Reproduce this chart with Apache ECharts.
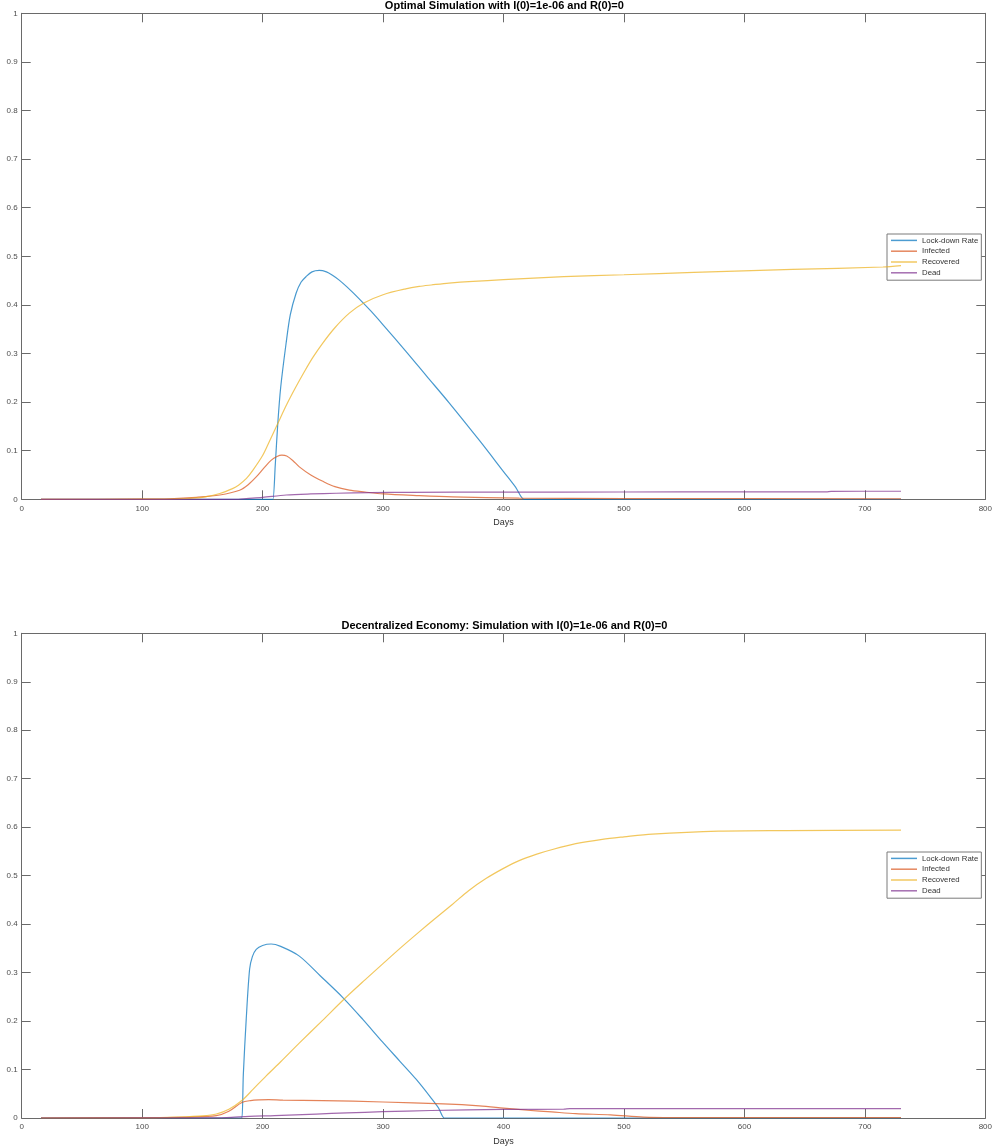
<!DOCTYPE html>
<html>
<head>
<meta charset="utf-8">
<script src="https://cdn.jsdelivr.net/npm/echarts@6/dist/echarts.min.js"></script>
<style>
html,body{margin:0;padding:0;background:#fff;}
#chart{width:995px;height:1147px;}
</style>
</head>
<body>
<div id="chart"></div>
<script>
// ---------- DATA ----------
const seriesNames = ['Lock-down Rate', 'Infected', 'Recovered', 'Dead'];
const titles = ['Optimal Simulation with I(0)=1e-06 and R(0)=0',
                'Decentralized Economy: Simulation with I(0)=1e-06 and R(0)=0'];
const xTicks = [0, 100, 200, 300, 400, 500, 600, 700, 800];
const yTicks = [0, 0.1, 0.2, 0.3, 0.4, 0.5, 0.6, 0.7, 0.8, 0.9, 1];
const xLabel = 'Days';

// Top panel: Optimal
const optLockDays = [16, 200, 207, 208.5, 210.5, 212.6, 215, 219.5, 223, 227.8, 232, 236, 241, 247, 253, 258, 263.6, 270, 280, 290, 300, 318.8, 336, 354.7, 380, 400, 410, 417, 419, 730];
const optLockVals = [0, 0, 0, 0, 0.07, 0.156, 0.23, 0.321, 0.38, 0.424, 0.447, 0.458, 0.468, 0.471, 0.468, 0.461, 0.451, 0.437, 0.413, 0.387, 0.359, 0.305, 0.254, 0.199, 0.121, 0.057, 0.025, 0, 0, 0];
const optInfDays = [16, 100, 123, 145, 164.5, 180.9, 188, 194.7, 201, 207, 212, 216, 220, 225, 230.5, 240, 250, 260, 272, 285, 300, 330, 357.7, 413, 500, 730];
const optInfVals = [0, 0.0002, 0.001, 0.004, 0.0088, 0.0186, 0.03, 0.046, 0.064, 0.08, 0.088, 0.0907, 0.089, 0.08, 0.0667, 0.05, 0.037, 0.026, 0.019, 0.015, 0.011, 0.0075, 0.005, 0.0025, 0.0015, 0.001];
const optRecDays = [16, 100, 131, 150, 164.5, 175, 180, 186.6, 192, 200, 206, 212.6, 220, 227.8, 235, 242, 249.8, 260, 272, 284, 300, 318.8, 330, 340, 354.7, 400, 450, 500, 558, 640, 715, 730];
const optRecVals = [0, 0.0003, 0.001, 0.004, 0.012, 0.022, 0.029, 0.043, 0.06, 0.09, 0.121, 0.156, 0.195, 0.232, 0.264, 0.293, 0.321, 0.353, 0.383, 0.404, 0.421, 0.433, 0.438, 0.441, 0.445, 0.452, 0.458, 0.462, 0.467, 0.473, 0.478, 0.481];
const optDeadDays = [16, 180, 186.5, 200, 219.6, 240, 261, 290, 322, 400, 496, 600, 668, 672, 730];
const optDeadVals = [0, 0, 0.0014, 0.004, 0.0088, 0.011, 0.0124, 0.0137, 0.0144, 0.0148, 0.015, 0.0152, 0.0153, 0.0165, 0.0166];

// Bottom panel: Decentralized
const decLockDays = [16, 176, 181.5, 182.8, 184, 186.4, 189.2, 191.5, 194.7, 200, 207.1, 215, 230.5, 248, 266.4, 283, 299.5, 314, 327.4, 340, 346, 350.8, 352.5, 730];
const decLockVals = [0, 0, 0, 0, 0.09, 0.204, 0.307, 0.333, 0.348, 0.356, 0.359, 0.354, 0.334, 0.293, 0.249, 0.204, 0.157, 0.117, 0.08, 0.041, 0.021, 0, 0, 0];
const decInfDays = [16, 100, 140, 161.6, 172, 182.8, 190, 197.5, 205, 216.8, 250, 300, 350, 380, 400, 420, 440, 460, 489, 516, 540, 730];
const decInfVals = [0, 0.0003, 0.002, 0.005, 0.014, 0.032, 0.036, 0.0375, 0.038, 0.037, 0.036, 0.033, 0.029, 0.025, 0.0205, 0.016, 0.0125, 0.009, 0.0065, 0.002, 0.001, 0.001];
const decRecDays = [16, 106, 130, 150, 161.6, 172, 182.8, 192, 203, 215, 230.6, 250, 268, 285, 299.7, 315, 330, 342.5, 357.7, 371, 385.4, 400, 413, 427, 440.6, 460, 482, 500, 523.4, 578.7, 634, 730];
const decRecVals = [0, 0.0003, 0.002, 0.0045, 0.0082, 0.018, 0.036, 0.059, 0.087, 0.116, 0.155, 0.202, 0.246, 0.285, 0.318, 0.352, 0.384, 0.41, 0.441, 0.469, 0.494, 0.515, 0.531, 0.544, 0.554, 0.566, 0.575, 0.58, 0.5856, 0.5918, 0.593, 0.594];
const decDeadDays = [16, 150, 170, 189, 210, 244.5, 270, 299.7, 340, 400, 450, 455, 730];
const decDeadVals = [0, 0.0003, 0.001, 0.0035, 0.005, 0.0082, 0.0105, 0.013, 0.0155, 0.0178, 0.0182, 0.0193, 0.0193];

// ---------- STYLE / LAYOUT ----------
const colors = ['#0072BD', '#D95319', '#EDB120', '#7E2F8E'];
const FONT = "'Liberation Sans', Arial, sans-serif";
const gridLeft = 21.7, gridRight = 8, gridH = 486;
const gridTops = [13.3, 633.3];
const axisColor = '#6a6a6a';
const labelColor = '#4d4d4d';

const pair = (d, v) => d.map((x, i) => [x, v[i]]);
const panels = [
  [pair(optLockDays, optLockVals), pair(optInfDays, optInfVals), pair(optRecDays, optRecVals), pair(optDeadDays, optDeadVals)],
  [pair(decLockDays, decLockVals), pair(decInfDays, decInfVals), pair(decRecDays, decRecVals), pair(decDeadDays, decDeadVals)]
];

const grids = [], xAxes = [], yAxes = [], series = [], legends = [], graphics = [];
const plotCenter = gridLeft + (995 - gridLeft - gridRight) / 2;

gridTops.forEach((top, g) => {
  grids.push({ left: gridLeft, right: gridRight, top: top, height: gridH, containLabel: false });
  const common = {
    type: 'value', gridIndex: g,
    splitLine: { show: false },
    axisLine: { show: true, onZero: false, lineStyle: { color: axisColor, width: 1 } },
    axisTick: { show: true, inside: true, length: 9, lineStyle: { color: axisColor, width: 1 } }
  };
  xAxes.push(Object.assign({}, common, {
    position: 'bottom', min: xTicks[0], max: xTicks[xTicks.length - 1], interval: xTicks[1] - xTicks[0],
    axisLabel: { show: true, color: labelColor, fontSize: 8, fontFamily: FONT, margin: 5,
      formatter: v => String(v) },
    name: xLabel, nameLocation: 'middle', nameGap: 19,
    nameTextStyle: { color: '#333', fontSize: 9, fontFamily: FONT }
  }));
  xAxes.push(Object.assign({}, common, {
    position: 'top', min: xTicks[0], max: xTicks[xTicks.length - 1], interval: xTicks[1] - xTicks[0],
    axisLabel: { show: false }
  }));
  yAxes.push(Object.assign({}, common, {
    position: 'left', min: yTicks[0], max: yTicks[yTicks.length - 1], interval: 0.1,
    axisLabel: { show: true, color: labelColor, fontSize: 8, fontFamily: FONT, margin: 4,
      formatter: v => String(Math.round(v * 10) / 10) }
  }));
  yAxes.push(Object.assign({}, common, {
    position: 'right', min: yTicks[0], max: yTicks[yTicks.length - 1], interval: 0.1,
    axisLabel: { show: false }
  }));

  panels[g].forEach((data, s) => {
    series.push({
      name: seriesNames[s], type: 'line',
      xAxisIndex: g * 2, yAxisIndex: g * 2,
      data: data, showSymbol: false, symbol: 'none',
      smooth: 0.3,
      lineStyle: { color: colors[s], width: 1.2, opacity: 0.72 },
      itemStyle: { color: colors[s], opacity: 0.72 },
      emphasis: { disabled: true },
      animation: false, z: 2 + s
    });
  });

  legends.push({
    show: true, orient: 'vertical',
    left: 887, top: g === 0 ? 234 : 852,
    data: seriesNames,
    icon: 'rect', itemWidth: 26, itemHeight: 1.5, itemGap: 0, itemTextGap: 1,
    padding: [1, 3, 2, 4],
    backgroundColor: '#fff', borderColor: '#7a7a7a', borderWidth: 1, borderRadius: 0,
    itemStyle: { opacity: 0.7 },
    textStyle: { color: '#333', fontSize: 7.8, fontFamily: FONT, lineHeight: 10.8 },
    selectedMode: false
  });

  graphics.push({
    type: 'text', x: plotCenter, y: g === 0 ? 6 : 626,
    style: { text: titles[g], fontSize: 11, fontWeight: 'bold', fontFamily: FONT, fill: '#000',
      textAlign: 'center', textVerticalAlign: 'middle' },
    z: 100
  });
});

const chart = echarts.init(document.getElementById('chart'), null, { renderer: 'canvas' });
chart.setOption({
  animation: false,
  backgroundColor: '#fff',
  color: colors,
  grid: grids, xAxis: xAxes, yAxis: yAxes, series: series,
  legend: legends, graphic: graphics,
  tooltip: { show: false }
});
</script>
</body>
</html>
